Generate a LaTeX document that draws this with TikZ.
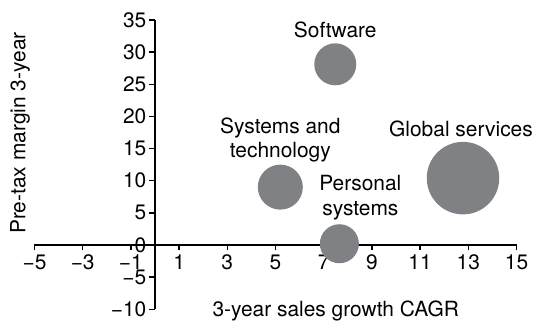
\documentclass[tikz,border=0pt]{standalone}
\usepackage{fontspec}
\setmainfont{TeX Gyre Heros}
\usetikzlibrary{positioning}
\definecolor{BUBBLE}{HTML}{808184}
\tikzset{
	every node/.style = {font=\fontsize{21}{24.5}\selectfont, inner sep=1pt},
	bubble/.style = {circle, fill=BUBBLE, draw=none},
	tag/.style = {align=center},
	axis/.style = {line width=1.4pt}
}

\begin{document}
\begin{tikzpicture}[x=24.1bp, y=6.43bp]
		\useasboundingbox (-6.4315,-12.286) rectangle (15.809,38.103);
		% axes
		\coordinate (xmin) at (-5,0);
		\coordinate (xmax) at (15,0);
		\coordinate (ymin) at (0,-10);
		\coordinate (ymax) at (0,35);
		\draw[axis] (xmin) -- (xmax);
		\draw[axis] (ymin) -- (ymax);
		% ticks
		\foreach \x/\t in {-5/−5,-3/−3,-1/−1,1/1,3/3,5/5,7/7,9/9,11/11,13/13,15/15}
			\draw[axis] (\x,0) -- ++(0,-5bp) node[anchor=north, yshift=-3bp] {\t};
		\foreach \y/\t in {-10/−10,-5/−5,0/0,5/5,10/10,15/15,20/20,25/25,30/30,35/35}
			\draw[axis] (0,\y) -- ++(-6bp,0) node[anchor=east, xshift=-1bp] {\t};
		% axis titles
		\node[rotate=90] (ytitle) at (-5.6,17.4) {Pre-tax margin 3-year};
		\node (xtitle) at (7.5,-10.3) {3-year sales growth CAGR};
		% bubbles
		\node[bubble, minimum size=42bp] (software) at (7.48,28.1) {};
		\node[bubble, minimum size=45bp] (systems) at (5.2,9.0) {};
		\node[bubble, minimum size=72.5bp] (global) at (12.78,10.4) {};
		\node[bubble, minimum size=39bp] (personal) at (7.65,0.2) {};
		% labels
		\node[tag, above=4bp of software] (softwarelabel) {Software};
		\node[tag, above=1bp of systems] (systemslabel) {Systems and\\technology};
		\node[tag, above=4bp of global, xshift=-2bp] (globallabel) {Global services};
		\node[tag, above=3bp of personal, xshift=21bp] (personallabel) {Personal\\systems};
	\end{tikzpicture}
\end{document}
